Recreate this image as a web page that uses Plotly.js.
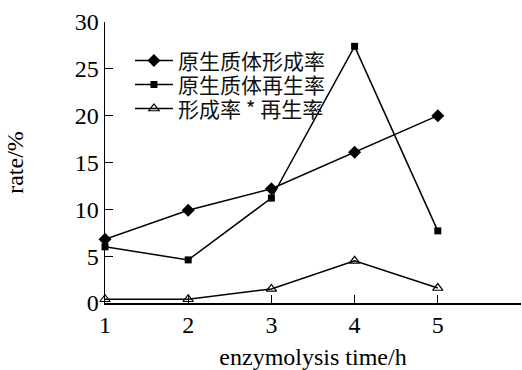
<!DOCTYPE html>
<html>
<head>
<meta charset="utf-8">
<script src="https://cdn.plot.ly/plotly-3.0.1.min.js"></script>
<style>html,body{margin:0;padding:0;background:#fff;}#chart{width:522px;height:370px;}</style>
</head>
<body>
<div id="chart"></div>
<script>
var hours = [1, 2, 3, 4, 5];
var formationRate = [6.8, 9.9, 12.2, 16.1, 20.0];
var regenerationRate = [6.0, 4.6, 11.2, 27.4, 7.7];
var productRate = [0.4, 0.4, 1.5, 4.5, 1.6];
var seriesNames = ['原生质体形成率', '原生质体再生率', '形成率 * 再生率'];
var xTickVals = [1, 2, 3, 4, 5, 6];
var xTickText = ['1', '2', '3', '4', '5', ''];
var yTickVals = [0, 5, 10, 15, 20, 25, 30];

var FONT = 'Liberation Serif, Times New Roman, Noto Sans CJK SC, serif';
var CJK = 'Noto Sans CJK SC, sans-serif';
var line = {color: '#000', width: 1.5};

var traces = [
  {x: hours, y: formationRate, name: seriesNames[0], type: 'scatter', mode: 'lines+markers', legend: 'legend',
   line: line, marker: {symbol: 'diamond', size: 10, color: '#000'}, cliponaxis: false},
  {x: hours, y: regenerationRate, name: seriesNames[1], type: 'scatter', mode: 'lines+markers', legend: 'legend2',
   line: line, marker: {symbol: 'square', size: 7, color: '#000'}, cliponaxis: false},
  {x: hours, y: productRate, name: seriesNames[2], type: 'scatter', mode: 'lines+markers', legend: 'legend3',
   line: line, marker: {symbol: 'triangle-up-open', size: 9, color: '#000', line: {color: '#000', width: 1.2}}, cliponaxis: false}
];

function leg(y) {
  return {x: 0.06, y: y, xanchor: 'left', yanchor: 'middle', bgcolor: 'rgba(0,0,0,0)',
          font: {family: CJK, size: 21, color: '#111'}, itemwidth: 38, borderwidth: 0};
}

var layout = {
  width: 522, height: 370,
  margin: {l: 105, r: 1, t: 22, b: 67},
  paper_bgcolor: '#fff', plot_bgcolor: '#fff',
  font: {family: FONT, color: '#000', size: 24},
  showlegend: true,
  legend: leg(0.862),
  legend2: leg(0.776),
  legend3: leg(0.691),
  xaxis: {range: [1, 6], tickmode: 'array', tickvals: xTickVals, ticktext: xTickText,
          showline: true, linecolor: '#000', linewidth: 1.5, ticks: 'inside', ticklen: 8,
          tickwidth: 1.2, tickcolor: '#000', showgrid: false, zeroline: false,
          tickfont: {family: FONT, size: 24},
          title: {text: 'enzymolysis time/h', font: {family: FONT, size: 24}, standoff: 16}},
  yaxis: {range: [0, 30], tickmode: 'array', tickvals: yTickVals,
          showline: true, linecolor: '#000', linewidth: 1.5, ticks: 'inside', ticklen: 8,
          tickwidth: 1.2, tickcolor: '#000', showgrid: false, zeroline: false,
          tickfont: {family: FONT, size: 24},
          title: {text: 'rate/%', font: {family: FONT, size: 24}, standoff: 44}}
};

Plotly.newPlot('chart', traces, layout, {staticPlot: true, displayModeBar: false});
</script>
</body>
</html>
